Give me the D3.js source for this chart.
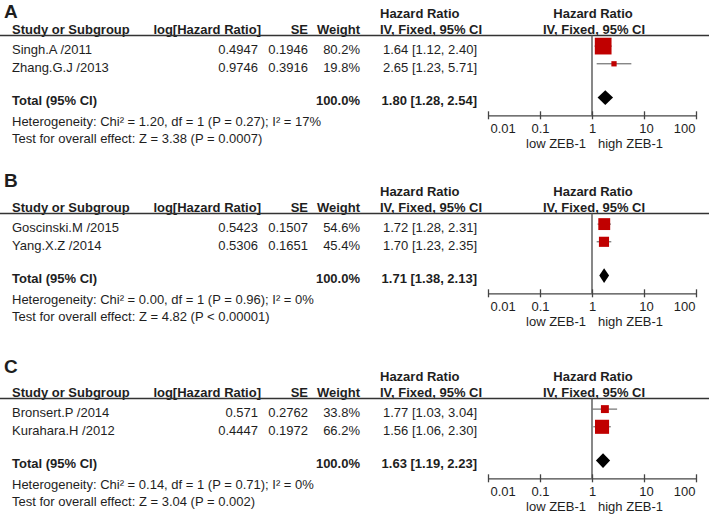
<!DOCTYPE html>
<html>
<head>
<meta charset="utf-8">
<script src="https://cdn.jsdelivr.net/npm/d3@7/dist/d3.min.js"></script>
<style>
  html, body { margin: 0; padding: 0; background: #fff; }
  svg { display: block; font-family: "Liberation Sans", Arial, Helvetica, sans-serif; }
  text { fill: #1e1e1e; }
</style>
</head>
<body>
<svg id="chart" width="709" height="517"></svg>
<script>
// ---------- DATA ----------
const panelLabels = ["A", "B", "C"];

const studiesA = ["Singh.A /2011", "Zhang.G.J /2013"];
const logHRA   = [0.4947, 0.9746];
const seA      = [0.1946, 0.3916];
const weightA  = [80.2, 19.8];
const hrA      = [1.64, 2.65];
const loA      = [1.12, 1.23];
const hiA      = [2.40, 5.71];
const totalA   = [1.80, 1.28, 2.54];
const hetA     = "Heterogeneity: Chi² = 1.20, df = 1 (P = 0.27); I² = 17%";
const testA    = "Test for overall effect: Z = 3.38 (P = 0.0007)";

const studiesB = ["Goscinski.M /2015", "Yang.X.Z /2014"];
const logHRB   = [0.5423, 0.5306];
const seB      = [0.1507, 0.1651];
const weightB  = [54.6, 45.4];
const hrB      = [1.72, 1.70];
const loB      = [1.28, 1.23];
const hiB      = [2.31, 2.35];
const totalB   = [1.71, 1.38, 2.13];
const hetB     = "Heterogeneity: Chi² = 0.00, df = 1 (P = 0.96); I² = 0%";
const testB    = "Test for overall effect: Z = 4.82 (P < 0.00001)";

const studiesC = ["Bronsert.P /2014", "Kurahara.H /2012"];
const logHRC   = [0.571, 0.4447];
const seC      = [0.2762, 0.1972];
const weightC  = [33.8, 66.2];
const hrC      = [1.77, 1.56];
const loC      = [1.03, 1.06];
const hiC      = [3.04, 2.30];
const totalC   = [1.63, 1.19, 2.23];
const hetC     = "Heterogeneity: Chi² = 0.14, df = 1 (P = 0.71); I² = 0%";
const testC    = "Test for overall effect: Z = 3.04 (P = 0.002)";

const tickValues = [0.01, 0.1, 1, 10, 100];
const tickLabels = ["0.01", "0.1", "1", "10", "100"];
const favourLeft  = "low ZEB-1";
const favourRight = "high ZEB-1";

const headerTop = ["Hazard Ratio", "Hazard Ratio"];
const headerCols = ["Study or Subgroup", "log[Hazard Ratio]", "SE", "Weight", "IV, Fixed, 95% CI", "IV, Fixed, 95% CI"];
const totalLabel = "Total (95% CI)";
const totalWeight = "100.0%";

// ---------- LAYOUT ----------
const panels = [
  {label: panelLabels[0], oy: 0,   ly: 17.5,  studies: studiesA, logHR: logHRA, se: seA, w: weightA, hr: hrA, lo: loA, hi: hiA, total: totalA, het: hetA, test: testA},
  {label: panelLabels[1], oy: 178, ly: 186.8, studies: studiesB, logHR: logHRB, se: seB, w: weightB, hr: hrB, lo: loB, hi: hiB, total: totalB, het: hetB, test: testB},
  {label: panelLabels[2], oy: 363, ly: 372.8, studies: studiesC, logHR: logHRC, se: seC, w: weightC, hr: hrC, lo: loC, hi: hiC, total: totalC, het: hetC, test: testC}
];

const svg = d3.select("#chart");
const x = d3.scaleLog().domain([0.01, 100]).range([488, 696]);
const size = d3.scaleLinear().domain([0, 100]).range([1.5, 20.5]);
const fmt2 = d3.format(".2f");
const fmtW = d => d3.format(".1f")(d) + "%";
const FS = 13;

panels.forEach(p => {
  const g = svg.append("g").attr("transform", `translate(0,${p.oy})`);

  // panel letter
  svg.append("text").attr("x", 4).attr("y", p.ly)
    .attr("font-size", 19).attr("font-weight", "bold").text(p.label);

  const bold = (t, xx, yy, anchor) => g.append("text").attr("x", xx).attr("y", yy)
      .attr("font-size", FS).attr("font-weight", "bold").attr("text-anchor", anchor || "start").text(t);
  const reg = (t, xx, yy, anchor) => g.append("text").attr("x", xx).attr("y", yy)
      .attr("font-size", FS).attr("text-anchor", anchor || "start").text(t);

  // headers
  bold(headerTop[0], 380, 18);
  bold(headerTop[1], 593, 18, "middle");
  bold(headerCols[0], 12, 34);
  bold(headerCols[1], 261, 34, "end");
  bold(headerCols[2], 308, 34, "end");
  bold(headerCols[3], 360, 34, "end");
  bold(headerCols[4], 380, 34);
  bold(headerCols[5], 594, 34, "middle");

  g.append("line").attr("x1", 0).attr("x2", 709).attr("y1", 35.5).attr("y2", 35.5)
    .attr("stroke", "#333").attr("stroke-width", 1.3);

  // rows
  const rowY = i => 54.3 + i * 17.7;
  p.studies.forEach((s, i) => {
    const y = rowY(i);
    reg(s, 12, y);
    reg(String(p.logHR[i]), 258, y, "end");
    reg(String(p.se[i]), 308, y, "end");
    reg(fmtW(p.w[i]), 360, y, "end");
    reg(`${fmt2(p.hr[i])} [${fmt2(p.lo[i])}, ${fmt2(p.hi[i])}]`, 477, y, "end");
  });

  // total
  bold(totalLabel, 12, 105.3);
  bold(totalWeight, 360, 105.3, "end");
  bold(`${fmt2(p.total[0])} [${fmt2(p.total[1])}, ${fmt2(p.total[2])}]`, 477, 105.3, "end");
  reg(p.het, 12, 126);
  reg(p.test, 12, 142.7);

  // reference line at 1
  g.append("line").attr("x1", x(1)).attr("x2", x(1)).attr("y1", 35.5).attr("y2", 115.3)
    .attr("stroke", "#555").attr("stroke-width", 1.4);

  // CI lines and squares
  p.studies.forEach((s, i) => {
    const cy = rowY(i) - 8.2;
    g.append("line").attr("x1", x(p.lo[i])).attr("x2", x(p.hi[i])).attr("y1", cy).attr("y2", cy)
      .attr("stroke", "#555").attr("stroke-width", 1);
    const sz = size(p.w[i]);
    g.append("rect").attr("x", x(p.hr[i]) - sz / 2).attr("y", cy - sz / 2)
      .attr("width", sz).attr("height", sz).attr("fill", "#c00000");
  });

  // diamond
  const dy = 105.3 - 7.7, dh = 7.3;
  g.append("path")
    .attr("d", `M${x(p.total[1])},${dy} L${x(p.total[0])},${dy - dh} L${x(p.total[2])},${dy} L${x(p.total[0])},${dy + dh} Z`)
    .attr("fill", "#000");

  // axis
  const axis = d3.axisBottom(x).tickValues(tickValues)
    .tickFormat((d, i) => tickLabels[i]).tickSizeOuter(0).tickSizeInner(4);
  const ag = g.append("g").attr("transform", "translate(0,115.3)").call(axis);
  ag.select(".domain").attr("stroke", "#444").attr("stroke-width", 1.3);
  ag.selectAll(".tick line").attr("y1", -4).attr("y2", 4).attr("stroke", "#444").attr("stroke-width", 1.3);
  const last = tickValues.length - 1;
  ag.selectAll(".tick text").attr("y", 17.4).attr("dy", 0)
    .attr("text-anchor", (d, i) => i === 0 ? "start" : (i === last ? "end" : "middle"))
    .attr("x", (d, i) => i === 0 ? 2 : (i === last ? -1 : (i === 3 ? 2 : 0)))
    .attr("font-size", FS).attr("font-family", "Liberation Sans, Arial, sans-serif").attr("fill", "#1e1e1e");

  reg(favourLeft, x(1) - 6, 148.3, "end");
  reg(favourRight, x(1) + 6, 148.3);
});
</script>
</body>
</html>
